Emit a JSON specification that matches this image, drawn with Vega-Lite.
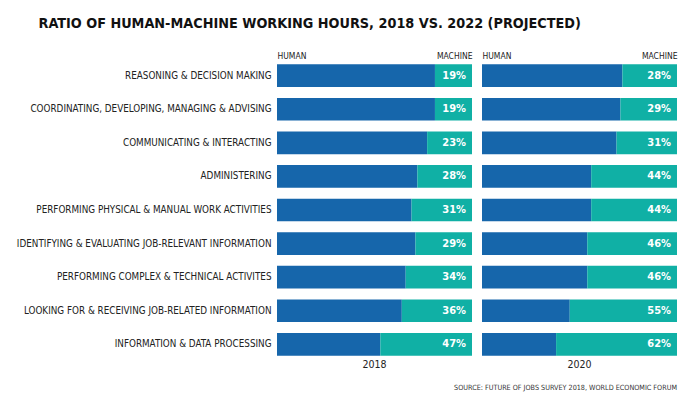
{
  "$schema": "https://vega.github.io/schema/vega-lite/v6.json",
  "background": "white",
  "padding": {"left": 16, "top": 16, "right": 12, "bottom": 4},
  "title": {
    "text": "RATIO OF HUMAN-MACHINE WORKING HOURS, 2018 VS. 2022 (PROJECTED)",
    "font": "DejaVu Sans Condensed",
    "fontSize": 14.3,
    "fontWeight": "bold",
    "color": "#111111",
    "anchor": "middle",
    "dx": -37,
    "offset": 20
  },
  "data": {
    "values": [
      {"task": "REASONING & DECISION MAKING", "year": "2018", "type": "Human", "pct": 0.81},
      {"task": "REASONING & DECISION MAKING", "year": "2018", "type": "Machine", "pct": 0.19},
      {"task": "COORDINATING, DEVELOPING, MANAGING & ADVISING", "year": "2018", "type": "Human", "pct": 0.81},
      {"task": "COORDINATING, DEVELOPING, MANAGING & ADVISING", "year": "2018", "type": "Machine", "pct": 0.19},
      {"task": "COMMUNICATING & INTERACTING", "year": "2018", "type": "Human", "pct": 0.77},
      {"task": "COMMUNICATING & INTERACTING", "year": "2018", "type": "Machine", "pct": 0.23},
      {"task": "ADMINISTERING", "year": "2018", "type": "Human", "pct": 0.72},
      {"task": "ADMINISTERING", "year": "2018", "type": "Machine", "pct": 0.28},
      {"task": "PERFORMING PHYSICAL & MANUAL WORK ACTIVITIES", "year": "2018", "type": "Human", "pct": 0.69},
      {"task": "PERFORMING PHYSICAL & MANUAL WORK ACTIVITIES", "year": "2018", "type": "Machine", "pct": 0.31},
      {"task": "IDENTIFYING & EVALUATING JOB-RELEVANT INFORMATION", "year": "2018", "type": "Human", "pct": 0.71},
      {"task": "IDENTIFYING & EVALUATING JOB-RELEVANT INFORMATION", "year": "2018", "type": "Machine", "pct": 0.29},
      {"task": "PERFORMING COMPLEX & TECHNICAL ACTIVITES", "year": "2018", "type": "Human", "pct": 0.66},
      {"task": "PERFORMING COMPLEX & TECHNICAL ACTIVITES", "year": "2018", "type": "Machine", "pct": 0.34},
      {"task": "LOOKING FOR & RECEIVING JOB-RELATED INFORMATION", "year": "2018", "type": "Human", "pct": 0.64},
      {"task": "LOOKING FOR & RECEIVING JOB-RELATED INFORMATION", "year": "2018", "type": "Machine", "pct": 0.36},
      {"task": "INFORMATION & DATA PROCESSING", "year": "2018", "type": "Human", "pct": 0.53},
      {"task": "INFORMATION & DATA PROCESSING", "year": "2018", "type": "Machine", "pct": 0.47},
      {"task": "REASONING & DECISION MAKING", "year": "2020", "type": "Human", "pct": 0.72},
      {"task": "REASONING & DECISION MAKING", "year": "2020", "type": "Machine", "pct": 0.28},
      {"task": "COORDINATING, DEVELOPING, MANAGING & ADVISING", "year": "2020", "type": "Human", "pct": 0.71},
      {"task": "COORDINATING, DEVELOPING, MANAGING & ADVISING", "year": "2020", "type": "Machine", "pct": 0.29},
      {"task": "COMMUNICATING & INTERACTING", "year": "2020", "type": "Human", "pct": 0.69},
      {"task": "COMMUNICATING & INTERACTING", "year": "2020", "type": "Machine", "pct": 0.31},
      {"task": "ADMINISTERING", "year": "2020", "type": "Human", "pct": 0.56},
      {"task": "ADMINISTERING", "year": "2020", "type": "Machine", "pct": 0.44},
      {"task": "PERFORMING PHYSICAL & MANUAL WORK ACTIVITIES", "year": "2020", "type": "Human", "pct": 0.56},
      {"task": "PERFORMING PHYSICAL & MANUAL WORK ACTIVITIES", "year": "2020", "type": "Machine", "pct": 0.44},
      {"task": "IDENTIFYING & EVALUATING JOB-RELEVANT INFORMATION", "year": "2020", "type": "Human", "pct": 0.54},
      {"task": "IDENTIFYING & EVALUATING JOB-RELEVANT INFORMATION", "year": "2020", "type": "Machine", "pct": 0.46},
      {"task": "PERFORMING COMPLEX & TECHNICAL ACTIVITES", "year": "2020", "type": "Human", "pct": 0.54},
      {"task": "PERFORMING COMPLEX & TECHNICAL ACTIVITES", "year": "2020", "type": "Machine", "pct": 0.46},
      {"task": "LOOKING FOR & RECEIVING JOB-RELATED INFORMATION", "year": "2020", "type": "Human", "pct": 0.45},
      {"task": "LOOKING FOR & RECEIVING JOB-RELATED INFORMATION", "year": "2020", "type": "Machine", "pct": 0.55},
      {"task": "INFORMATION & DATA PROCESSING", "year": "2020", "type": "Human", "pct": 0.38},
      {"task": "INFORMATION & DATA PROCESSING", "year": "2020", "type": "Machine", "pct": 0.62}
    ]
  },
  "facet": {
    "column": {
      "field": "year",
      "type": "ordinal",
      "header": {
        "title": "SOURCE: FUTURE OF JOBS SURVEY 2018, WORLD ECONOMIC FORUM",
        "titleOrient": "bottom",
        "titleAnchor": "end",
        "titleFont": "DejaVu Sans Condensed",
        "titleFontSize": 7.2,
        "titleFontWeight": "normal",
        "titleColor": "#333333",
        "titlePadding": 3,
        "labelOrient": "bottom",
        "labelFont": "DejaVu Sans Condensed",
        "labelFontSize": 10.5,
        "labelColor": "#222222",
        "labelPadding": 1
      }
    }
  },
  "spacing": 10,
  "spec": {
    "width": 195,
    "height": 298,
    "encoding": {
      "y": {
        "field": "task",
        "type": "nominal",
        "sort": [
          "REASONING & DECISION MAKING",
          "COORDINATING, DEVELOPING, MANAGING & ADVISING",
          "COMMUNICATING & INTERACTING",
          "ADMINISTERING",
          "PERFORMING PHYSICAL & MANUAL WORK ACTIVITIES",
          "IDENTIFYING & EVALUATING JOB-RELEVANT INFORMATION",
          "PERFORMING COMPLEX & TECHNICAL ACTIVITES",
          "LOOKING FOR & RECEIVING JOB-RELATED INFORMATION",
          "INFORMATION & DATA PROCESSING"
        ],
        "scale": {"paddingInner": 0.325, "paddingOuter": 0.1},
        "axis": {
          "title": null,
          "ticks": false,
          "domain": false,
          "labelFont": "DejaVu Sans Condensed",
          "labelFontSize": 9.8,
          "labelColor": "#222222",
          "labelPadding": 6,
          "labelLimit": 400
        }
      }
    },
    "layer": [
      {
        "mark": {"type": "bar"},
        "encoding": {
          "x": {
            "field": "pct",
            "type": "quantitative",
            "stack": "zero",
            "scale": {"domain": [0, 1]},
            "axis": {
              "orient": "top",
              "title": null,
              "values": [0, 1],
              "labelExpr": "datum.value == 0 ? 'HUMAN' : 'MACHINE'",
              "labelFlush": true,
              "ticks": false,
              "domain": false,
              "grid": false,
              "labelFont": "DejaVu Sans Condensed",
              "labelFontSize": 8.5,
              "labelColor": "#222222",
              "labelPadding": 1
            }
          },
          "color": {
            "field": "type",
            "type": "nominal",
            "scale": {"domain": ["Human", "Machine"], "range": ["#1666ab", "#10b0a5"]},
            "legend": null
          }
        }
      },
      {
        "transform": [{"filter": "datum.type == 'Machine'"}],
        "mark": {
          "type": "text",
          "align": "right",
          "baseline": "middle",
          "dx": -6,
          "color": "white",
          "font": "DejaVu Sans Condensed",
          "fontWeight": "bold",
          "fontSize": 11
        },
        "encoding": {
          "x": {"datum": 1},
          "text": {"field": "pct", "type": "quantitative", "format": ".0%"}
        }
      }
    ]
  },
  "config": {"view": {"stroke": null}}
}
